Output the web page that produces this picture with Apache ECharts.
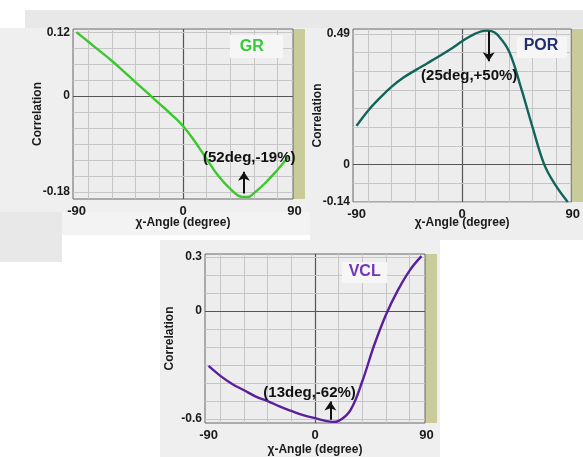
<!DOCTYPE html>
<html>
<head>
<meta charset="utf-8">
<script src="https://cdn.jsdelivr.net/npm/echarts@6/dist/echarts.min.js"></script>
<style>html,body{margin:0;padding:0;background:#fff}#c{width:583px;height:457px}</style>
</head>
<body>
<div id="c"></div>
<script>
// ---- data ----
const xRange = [-93, 93];
const xGridVals = [-80, -60, -40, -20, 0, 20, 40, 60, 80];
const xTickLabels = [-90, 0, 90];

const grAngles = [-90,-80,-70,-60,-50,-40,-30,-20,-10,0,10,20,30,40,50,55,60,70,80,90];
const grValues = [0.120,0.102,0.084,0.066,0.046,0.026,0.006,-0.014,-0.034,-0.056,-0.085,-0.118,-0.150,-0.174,-0.189,-0.189,-0.182,-0.162,-0.138,-0.112];
const grYRange = [-0.193, 0.126];
const grYGrid = [-0.18,-0.15,-0.12,-0.09,-0.06,-0.03,0,0.03,0.06,0.09,0.12];
const grYLabels = [-0.18, 0, 0.12];

const porAngles = [-90,-80,-70,-60,-50,-40,-30,-20,-10,0,10,20,25,30,40,50,60,70,80,90];
const porValues = [0.145,0.203,0.250,0.292,0.326,0.353,0.379,0.405,0.432,0.462,0.488,0.502,0.500,0.487,0.424,0.290,0.140,0.000,-0.080,-0.140];
const porYRange = [-0.14, 0.508];
const porYGrid = [-0.14,-0.07,0,0.07,0.14,0.21,0.28,0.35,0.42,0.49];
const porYLabels = [-0.14, 0, 0.49];

const vclAngles = [-90,-80,-70,-60,-50,-40,-30,-20,-10,0,10,15,20,30,40,50,60,70,80,90];
const vclValues = [-0.305,-0.360,-0.405,-0.440,-0.475,-0.500,-0.530,-0.555,-0.578,-0.595,-0.612,-0.616,-0.610,-0.550,-0.390,-0.190,-0.020,0.115,0.225,0.305];
const vclYRange = [-0.622, 0.317];
const vclYGrid = [-0.6,-0.5,-0.4,-0.3,-0.2,-0.1,0,0.1,0.2,0.3];
const vclYLabels = [-0.6, 0, 0.3];

// annotations: [text x, text y, label, arrow x, arrow from y, arrow to y]
const grNote = [56, -0.115, '(52deg,-19%)', 51.5, -0.1825, -0.142];
const porNote = [6, 0.333, '(25deg,+50%)', 22.6, 0.499, 0.387];
const vclNote = [-4.6, -0.453, '(13deg,-62%)', 13, -0.604, -0.502];

const FONT = 'Liberation Sans, Arial, sans-serif';

const panels = [
  {name:'GR', angles:grAngles, values:grValues, yRange:grYRange, yGrid:grYGrid, yLabels:grYLabels, note:grNote,
   color:'#3cc82c', grid:{left:73, top:29, width:220, height:170}, nameGap:18},
  {name:'POR', angles:porAngles, values:porValues, yRange:porYRange, yGrid:porYGrid, yLabels:porYLabels, note:porNote,
   color:'#10645a', grid:{left:353, top:29, width:219, height:173}, nameGap:15},
  {name:'VCL', angles:vclAngles, values:vclValues, yRange:vclYRange, yGrid:vclYGrid, yLabels:vclYLabels, note:vclNote,
   color:'#5a1f9c', grid:{left:205, top:254, width:220, height:169}, nameGap:21}
];

const grids = [], xAxes = [], yAxes = [], series = [];
panels.forEach((p, i) => {
  grids.push(Object.assign({show:true, backgroundColor:'#ededed', borderColor:'#666', borderWidth:1}, p.grid));
  const tickStyle = {color:'#444', width:1};
  xAxes.push({
    gridIndex:i, type:'value', min:xRange[0], max:xRange[1],
    axisLine:{show:false}, splitLine:{show:false},
    axisTick:{show:true, inside:true, length:3, customValues:xGridVals, lineStyle:tickStyle},
    axisLabel:{customValues:xTickLabels, margin:6, fontSize:13, fontWeight:'bold', color:'#1a1a1a', fontFamily:FONT,
      formatter: v => v === 90 ? '{r|90}' : String(v),
      rich:{r:{fontSize:13, fontWeight:'bold', color:'#1a1a1a', fontFamily:FONT, padding:[0,0,0,10]}}},
    name:'χ-Angle (degree)', nameLocation:'middle', nameGap:p.nameGap, nameMoveOverlap:false,
    nameTextStyle:{fontSize:12, fontWeight:'bold', color:'#1a1a1a', fontFamily:FONT, verticalAlign:'top'}
  });
  xAxes.push({
    gridIndex:i, type:'value', position:'top', min:xRange[0], max:xRange[1],
    axisLine:{show:false}, splitLine:{show:false}, axisLabel:{show:false},
    axisTick:{show:true, inside:true, length:3, customValues:xGridVals, lineStyle:tickStyle}
  });
  yAxes.push({
    gridIndex:i, type:'value', min:p.yRange[0], max:p.yRange[1],
    axisLine:{show:false}, splitLine:{show:false},
    axisTick:{show:true, inside:true, length:3, customValues:p.yGrid, lineStyle:tickStyle},
    axisLabel:{customValues:p.yLabels, margin:3, fontSize:12, fontWeight:'bold', color:'#1a1a1a', fontFamily:FONT},
    name:'Correlation', nameLocation:'middle', nameGap:29, nameMoveOverlap:false,
    nameTextStyle:{fontSize:12, fontWeight:'bold', color:'#1a1a1a', fontFamily:FONT}
  });
  yAxes.push({
    gridIndex:i, type:'value', position:'right', min:p.yRange[0], max:p.yRange[1],
    axisLine:{show:false}, splitLine:{show:false}, axisLabel:{show:false},
    axisTick:{show:true, inside:true, length:3, customValues:p.yGrid, lineStyle:tickStyle}
  });
  const gl = [];
  xGridVals.forEach(v => gl.push(v === 0 ? {xAxis:v, lineStyle:{color:'#555', width:1.2}} : {xAxis:v}));
  p.yGrid.forEach(v => gl.push(v === 0 ? {yAxis:v, lineStyle:{color:'#555', width:1.2}} : {yAxis:v}));
  const data = p.angles.map((a, k) => [a, p.values[k]]);
  series.push({
    type:'line', xAxisIndex:2*i, yAxisIndex:2*i, data:data, silent:true, z:1,
    showSymbol:false, lineStyle:{opacity:0},
    markLine:{silent:true, symbol:'none', label:{show:false}, animation:false, z:1,
      lineStyle:{color:'#c6c6c6', width:1, type:'solid'}, data:gl}
  });
  const n = p.note;
  series.push({
    type:'line', xAxisIndex:2*i, yAxisIndex:2*i, data:data, z:3, smooth:0.4,
    showSymbol:false, lineStyle:{color:p.color, width:2.4}, animation:false,
    markLine:{silent:true, symbol:['none','arrow'], symbolSize:9, label:{show:false}, animation:false, z:6,
      itemStyle:{color:'#111'},
      lineStyle:{color:'#111', width:2, type:'solid'},
      data:[[{coord:[n[3], n[4]]}, {coord:[n[3], n[5]]}]]},
    markPoint:{silent:true, animation:false, z:6,
      data:[{coord:[n[0], n[1]], symbol:'rect', symbolSize:1, itemStyle:{color:'rgba(0,0,0,0)'},
        label:{show:true, position:'inside', formatter:n[2], fontSize:15, fontWeight:'bold', color:'#111', fontFamily:FONT}}]}
  });
});

const bg = [
  [25,10,558,18,'#e8e8e8'],
  [0,28,310,184,'#efefef'],
  [62,212,248,23,'#f3f3f3'],
  [0,212,62,50,'#e8e8e8'],
  [310,28,273,212,'#eeeeee'],
  [160,240,280,217,'#efefef'],
  [293,29,12,170,'#c9cb9b'],
  [572,29,11,173,'#c9cb9b'],
  [425,254,12,169,'#c9cb9b']
];
const graphics = bg.map(r => ({type:'rect', z:-100, silent:true, shape:{x:r[0], y:r[1], width:r[2], height:r[3]}, style:{fill:r[4]}}));
const titles = [
  ['GR', 251.7, 46.7, '#33cc33', [230,35,53,23]],
  ['POR', 541, 46, '#22306e', [517,37,50,21]],
  ['VCL', 364.7, 271.7, '#7434b8', [342,262,45,21]]
];
titles.forEach(t => {
  graphics.push({type:'rect', z:100, silent:true, shape:{x:t[4][0], y:t[4][1], width:t[4][2], height:t[4][3]}, style:{fill:'#f6f6f6'}});
  graphics.push({type:'text', z:101, silent:true, x:t[1], y:t[2], style:{text:t[0], fill:t[3], font:'bold 16px ' + FONT, align:'center', verticalAlign:'middle'}});
});

const chart = echarts.init(document.getElementById('c'), null, {renderer:'canvas'});
chart.setOption({
  backgroundColor:'#ffffff',
  animation:false,
  grid:grids, xAxis:xAxes, yAxis:yAxes, series:series,
  graphic:{elements:graphics}
});
</script>
</body>
</html>
